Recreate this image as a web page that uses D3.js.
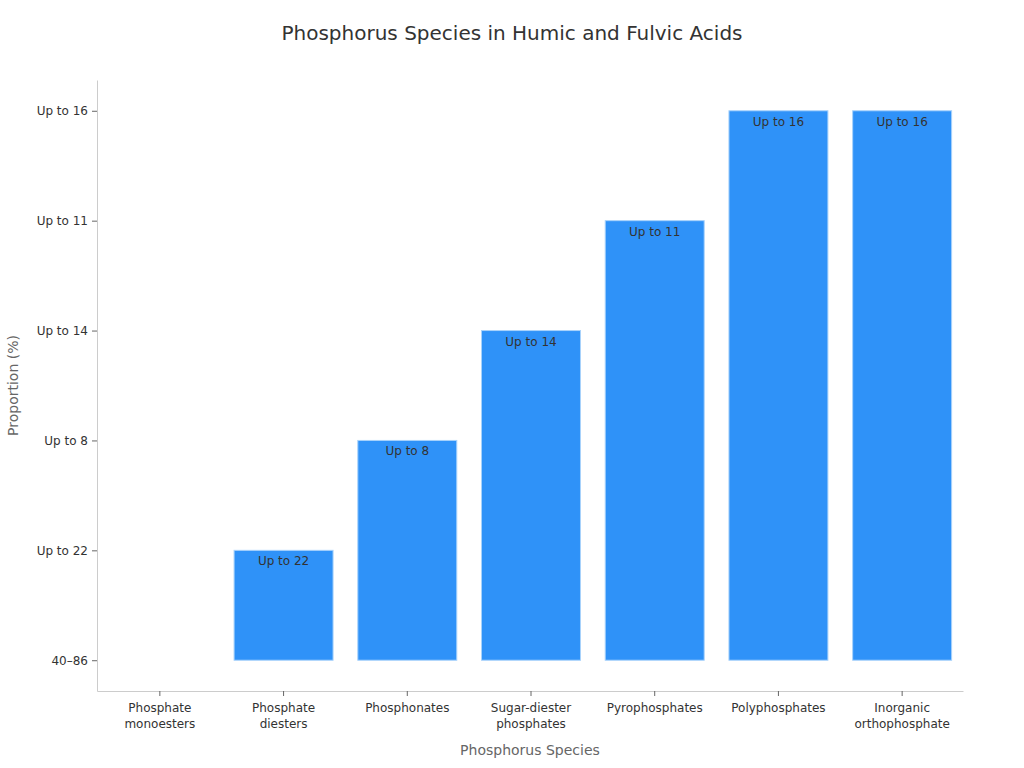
<!DOCTYPE html>
<html>
<head>
<meta charset="utf-8">
<script src="https://cdn.jsdelivr.net/npm/d3@7"></script>
<style>
  body { margin: 0; background: #fff; }
  svg { font-family: "DejaVu Sans", sans-serif; }
</style>
</head>
<body>
<div id="chart"></div>
<script>
// categories along the x axis
const species = ["Phosphate monoesters", "Phosphate diesters", "Phosphonates",
    "Sugar-diester phosphates", "Pyrophosphates", "Polyphosphates", "Inorganic orthophosphate"];
// y axis is categorical, bottom to top
const yLevels = ["40–86", "Up to 22", "Up to 8", "Up to 14", "Up to 11", "Up to 16"];
// value label of each bar
const proportions = ["40–86", "Up to 22", "Up to 8", "Up to 14", "Up to 11", "Up to 16", "Up to 16"];

const width = 1024, height = 768;
const margin = {top: 80, right: 61, bottom: 77, left: 97};

const svg = d3.select("#chart")
    .append("svg")
    .attr("width", width)
    .attr("height", height);

const x = d3.scaleBand()
    .domain(species)
    .range([margin.left + 1, width - margin.right + 1])
    .paddingInner(0.2)
    .paddingOuter(0.1);

const y = d3.scalePoint()
    .domain(yLevels)
    .range([height - margin.bottom, margin.top])
    .padding(0.28);

// title
svg.append("text")
    .attr("x", width / 2)
    .attr("y", 40)
    .attr("text-anchor", "middle")
    .attr("font-size", "20px")
    .attr("fill", "#333")
    .text("Phosphorus Species in Humic and Fulvic Acids");

// bars, from the lowest level up to each value
const base = y(yLevels[0]);
svg.append("g")
    .selectAll("rect")
    .data(species)
    .enter()
    .append("rect")
    .attr("x", d => x(d))
    .attr("width", x.bandwidth())
    .attr("y", (d, i) => y(proportions[i]))
    .attr("height", (d, i) => base - y(proportions[i]))
    .attr("fill", "#2f92f8")
    .attr("stroke", "#a8d2fb")
    .attr("stroke-width", 1)
    .attr("display", (d, i) => base - y(proportions[i]) > 0 ? null : "none");

// labels inside the bar tops
svg.append("g")
    .selectAll("text")
    .data(species)
    .enter()
    .append("text")
    .attr("x", d => x(d) + x.bandwidth() / 2)
    .attr("y", (d, i) => y(proportions[i]) + 15)
    .attr("text-anchor", "middle")
    .attr("font-size", "12px")
    .attr("fill", "#333")
    .attr("display", (d, i) => base - y(proportions[i]) > 0 ? null : "none")
    .text((d, i) => proportions[i]);

// x axis
const gx = svg.append("g")
    .attr("transform", `translate(0,${height - margin.bottom})`)
    .call(d3.axisBottom(x).tickSize(5).tickSizeOuter(0));
gx.select(".domain").attr("stroke", "#ccc").attr("transform", "translate(-1,0)");
gx.selectAll(".tick line").attr("stroke", "#666");
gx.selectAll(".tick text")
    .attr("font-size", "12px")
    .attr("font-family", "DejaVu Sans, sans-serif")
    .attr("fill", "#333")
    .attr("y", 12)
    .attr("dy", "0.71em")
    .each(function(d) {
        // wrap two-word labels onto two lines
        const words = d.split(" ");
        const t = d3.select(this).text(null);
        if (words.length === 1) {
            t.append("tspan").attr("x", 0).text(d);
        } else {
            t.append("tspan").attr("x", 0).text(words[0]);
            t.append("tspan").attr("x", 0).attr("dy", "1.35em").text(words.slice(1).join(" "));
        }
    });

// y axis
const gy = svg.append("g")
    .attr("transform", `translate(${margin.left},0)`)
    .call(d3.axisLeft(y).tickSize(5).tickSizeOuter(0));
gy.select(".domain").attr("stroke", "#ccc");
gy.selectAll(".tick line").attr("stroke", "#666");
gy.selectAll(".tick text")
    .attr("font-size", "12px")
    .attr("font-family", "DejaVu Sans, sans-serif")
    .attr("fill", "#333")
    .attr("x", -9);

// axis titles
svg.append("text")
    .attr("x", (margin.left + width - margin.right) / 2)
    .attr("y", 755)
    .attr("text-anchor", "middle")
    .attr("font-size", "14px")
    .attr("fill", "#666")
    .text("Phosphorus Species");

svg.append("text")
    .attr("transform", "rotate(-90)")
    .attr("x", -(margin.top + height - margin.bottom) / 2)
    .attr("y", 18)
    .attr("text-anchor", "middle")
    .attr("font-size", "14px")
    .attr("fill", "#666")
    .text("Proportion (%)");
</script>
</body>
</html>
